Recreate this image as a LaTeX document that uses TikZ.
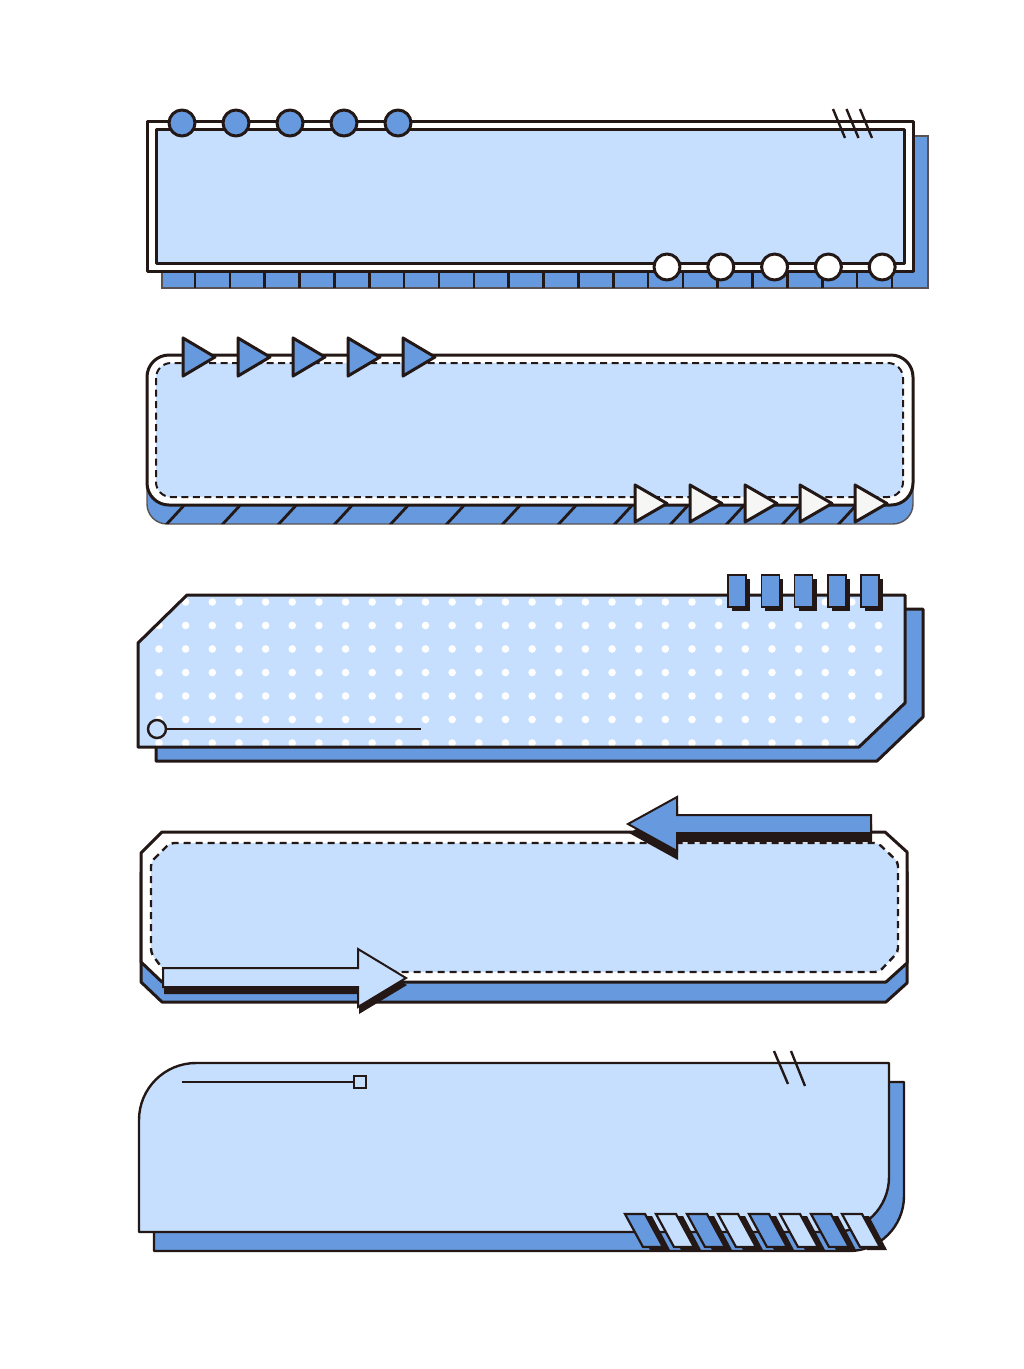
\documentclass[tikz,border=0pt]{standalone}
\definecolor{paleblue}{HTML}{C6DFFE}
\definecolor{midblue}{HTML}{6699DD}
\definecolor{ink}{HTML}{231815}
\definecolor{offwhite}{HTML}{F6F7F4}
\tikzset{
  outline/.style={draw=ink, line width=3pt, line join=round},
  thinline/.style={draw=ink, line width=2pt},
  backplate/.style={fill=midblue, draw=ink!75, line width=1.4pt},
  dashframe/.style={draw=ink, line width=2pt, dash pattern=on 7pt off 4.5pt},
}
\begin{document}
\begin{tikzpicture}[x=1pt, y=-1pt]
    \useasboundingbox (0,0) rectangle (1024,1369);
    % ---- banner 1: double frame with beads
    \draw [backplate] (162,136) rectangle (928,288);
    \foreach \k in {0,...,20}
        \draw [thinline, line width=2.6pt] ({195+34.85*\k},271) -- ({195+34.85*\k},288);
    \draw [outline, fill=white] (147,121) rectangle (913,271);
    \draw [outline, fill=paleblue] (156,129) rectangle (904,263);
    \foreach \k in {0,...,4}
        \draw [outline, fill=midblue] ({182+54*\k},123) circle (13pt);
    \foreach \k in {0,...,4}
        \draw [outline, fill=white] ({667+53.8*\k},267) circle (13pt);
    \foreach \k in {0,1,2}
        \draw [thinline, line width=2.4pt] ({833+13.5*\k},109) -- ({845+13.5*\k},138);
    % ---- banner 2: rounded frame with flags
    \draw [backplate, rounded corners=20pt] (147,372) rectangle (913,524);
    \begin{scope}
        \clip [rounded corners=20pt] (147,372) rectangle (913,524);
        \foreach \k in {0,...,12}
            \draw [thinline, line width=2.8pt] ({165+56*\k},526) -- ({189+56*\k},500);
    \end{scope}
    \draw [outline, fill=white, rounded corners=22pt] (147,355) rectangle (913,505);
    \draw [dashframe, fill=paleblue, rounded corners=15pt] (156,363) rectangle (903,497);
    \foreach \k in {0,...,4}
        \draw [outline, fill=midblue] ({183+55*\k},338) -- ++(32,19) -- ++(-32,19) -- cycle;
    \foreach \k in {0,...,4}
        \draw [outline, fill=offwhite] ({635+55*\k},485) -- ++(32,18.5) -- ++(-32,18.5) -- cycle;
    % ---- banner 3: tag with dots
    \draw [outline, fill=midblue, shift={(18,14)}]
        (138,643) -- (187,595) -- (905,595) -- (905,703) -- (859,747) -- (138,747) -- cycle;
    \fill [paleblue] (138,643) -- (187,595) -- (905,595) -- (905,703) -- (859,747) -- (138,747) -- cycle;
    \begin{scope}
        \clip (138,643) -- (187,595) -- (905,595) -- (905,705) -- (870,715) -- (862,747) -- (138,747) -- cycle;
        \foreach \i in {0,...,27}
            \foreach \j in {0,...,6}
                \fill [white] ({159+26.65*\i},{602+23.5*\j}) circle (3.8pt);
    \end{scope}
    \draw [outline] (138,643) -- (187,595) -- (905,595) -- (905,703) -- (859,747) -- (138,747) -- cycle;
    \node [circle, outline, line width=2.4pt, fill=paleblue, minimum size=18pt, inner sep=0pt] (Ring) at (157,729) {};
    \coordinate (RingEnd) at (421,729);
    \draw [thinline, line width=2.4pt] (Ring) -- (RingEnd);
    \foreach \k in {0,...,4} {
        \fill [ink] ({732+33.3*\k},579) rectangle ++(18,32);
        \draw [thinline, line width=1.6pt, fill=midblue] ({728+33.3*\k},575) rectangle ++(18,32);
    }
    % ---- banner 4: cut corners with arrows
    \draw [outline, fill=midblue, shift={(0,20)}]
        (141,853) -- (162,832) -- (885,832) -- (907,852) -- (907,963) -- (886,982) -- (162,982) -- (141,962) -- cycle;
    \draw [outline, fill=white]
        (141,853) -- (162,832) -- (885,832) -- (907,852) -- (907,963) -- (886,982) -- (162,982) -- (141,962) -- cycle;
    \draw [dashframe, line width=2.4pt, dash pattern=on 7pt off 5pt, fill=paleblue, rounded corners=4pt]
        (151,862) -- (170,843) -- (878,843) -- (898,862) -- (898,952) -- (879,972) -- (165,972) -- (151,953) -- cycle;
    \fill [ink, shift={(1,7)}] (163,968) -- (358,968) -- (358,949) -- (406,978) -- (358,1007) -- (358,987) -- (163,987) -- cycle;
    \draw [thinline, fill=paleblue] (163,968) -- (358,968) -- (358,949) -- (406,978) -- (358,1007) -- (358,987) -- (163,987) -- cycle;
    \fill [ink, shift={(1,9)}] (871,815) -- (677,815) -- (677,797) -- (628,824) -- (677,851) -- (677,833) -- (871,833) -- cycle;
    \draw [thinline, fill=midblue] (871,815) -- (677,815) -- (677,797) -- (628,824) -- (677,851) -- (677,833) -- (871,833) -- cycle;
    % ---- banner 5: rounded card with stripes
    \draw [outline, line width=2.4pt, fill=midblue, shift={(15,19)}]
        (139,1232) -- (139,1120) arc [start angle=180, end angle=90, radius=57pt]
        -- (889,1063) -- (889,1177) arc [start angle=0, end angle=-90, radius=55pt] -- cycle;
    \draw [outline, line width=2.4pt, fill=paleblue]
        (139,1232) -- (139,1120) arc [start angle=180, end angle=90, radius=57pt]
        -- (889,1063) -- (889,1177) arc [start angle=0, end angle=-90, radius=55pt] -- cycle;
    \coordinate (BarStart) at (182,1082);
    \node [rectangle, thinline, line width=2.2pt, fill=paleblue, minimum size=12pt, inner sep=0pt] (Knob) at (360,1082) {};
    \draw [thinline, line width=2.2pt] (BarStart) -- (Knob);
    \draw [thinline, line width=2.4pt] (774,1051) -- (788,1084);
    \draw [thinline, line width=2.4pt] (791,1051) -- (805,1086);
    \foreach \k/\c in {0/midblue,1/paleblue,2/midblue,3/paleblue,4/midblue,5/paleblue,6/midblue,7/paleblue} {
        \fill [ink] ({632+31*\k},1216) -- ++(20,0) -- ++(18,34) -- ++(-20,0) -- cycle;
        \draw [thinline, line width=2.2pt, fill=\c] ({625+31*\k},1214) -- ++(20,0) -- ++(18,33) -- ++(-20,0) -- cycle;
    }
\end{tikzpicture}
\end{document}
